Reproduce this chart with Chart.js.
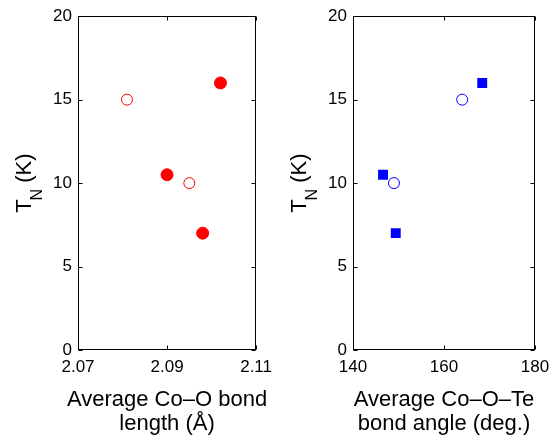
<!DOCTYPE html>
<html><head><meta charset="utf-8">
<script src="https://cdn.jsdelivr.net/npm/chart.js@4.4.0/dist/chart.umd.min.js"></script>
<style>
html,body{margin:0;padding:0;background:#fff}
body{width:557px;height:438px;overflow:hidden;position:relative}
.box{position:absolute;top:0;height:438px}
canvas{display:block}
</style></head><body>
<div class="box" style="left:0;width:279px"><canvas id="c1" width="279" height="438"></canvas></div>
<div class="box" style="left:279px;width:278px"><canvas id="c2" width="278" height="438"></canvas></div>
<script>
// ---- data ----
const lengthTicks = [2.07, 2.09, 2.11];
const angleTicks = [140, 160, 180];
const tnTicks = [0, 5, 10, 15, 20];

const lengthOpen = [2.081, 2.095];
const tnLengthOpen = [15, 10];
const lengthFilled = [2.090, 2.098, 2.102];
const tnLengthFilled = [10.5, 7, 16];

const angleOpen = [149, 164];
const tnAngleOpen = [10, 15];
const angleFilled = [146.6, 149.4, 168.4];
const tnAngleFilled = [10.5, 7, 16];

const xTitleLeft = ['Average Co\u2013O bond', 'length (\u00C5)'];
const xTitleRight = ['Average Co\u2013O\u2013Te', 'bond angle (deg.)'];

const FONT = "'Liberation Sans', Arial, Helvetica, sans-serif";

function pts(xs, ys) { return xs.map((v, i) => ({x: v, y: ys[i]})); }

const frame = {
  id: 'frame',
  afterDraw(chart, args, opts) {
    const {ctx, chartArea: a, scales: {x, y}} = chart;
    ctx.save();
    ctx.strokeStyle = '#000';
    ctx.lineWidth = 1;
    const l = Math.round(a.left) + 0.5, r = Math.round(a.right) - 0.5;
    const t = Math.round(a.top) + 0.5, b = Math.round(a.bottom) - 0.5;
    ctx.strokeRect(l, t, r - l, b - t);
    const L = 4;
    ctx.beginPath();
    x.ticks.forEach(tk => {
      const px = Math.round(x.getPixelForValue(tk.value)) + 0.5;
      ctx.moveTo(px, b); ctx.lineTo(px, b - L);
      ctx.moveTo(px, t); ctx.lineTo(px, t + L);
    });
    y.ticks.forEach(tk => {
      const py = Math.round(y.getPixelForValue(tk.value)) + 0.5;
      ctx.moveTo(l, py); ctx.lineTo(l + L, py);
      ctx.moveTo(r, py); ctx.lineTo(r - L, py);
    });
    ctx.stroke();
    const big = '22px ' + FONT, small = '16px ' + FONT;
    ctx.fillStyle = '#000';
    ctx.textBaseline = 'alphabetic';
    // x title (two lines, no width compression)
    ctx.textAlign = 'center';
    ctx.font = big;
    const mx = (a.left + a.right) / 2;
    ctx.fillText(opts.xTitle[0], mx, 405.5);
    ctx.fillText(opts.xTitle[1], mx, 430);
    // y title: T_N (K)
    ctx.textAlign = 'left';
    ctx.font = big; const wT = ctx.measureText('T').width;
    const wK = ctx.measureText(' (K)').width;
    ctx.font = small; const wN = ctx.measureText('N').width;
    const total = wT + wN + wK - 1;
    const cx = a.left - 47, cy = (a.top + a.bottom) / 2;
    ctx.translate(cx, cy);
    ctx.rotate(-Math.PI / 2);
    let px = -total / 2;
    ctx.font = big; ctx.fillText('T', px, 0); px += wT - 1;
    ctx.font = small; ctx.fillText('N', px, 11); px += wN;
    ctx.font = big; ctx.fillText(' (K)', px, 0);
    ctx.restore();
  }
};

function makeChart(id, xmin, xmax, xt, xfmt, title, datasets, yWidth, rightPad) {
  return new Chart(document.getElementById(id), {
    type: 'scatter',
    data: {datasets},
    options: {
      responsive: false,
      animation: false,
      layout: {padding: {top: 14, right: rightPad, left: 0, bottom: 0}},
      plugins: {legend: {display: false}, tooltip: {enabled: false}, frame: {xTitle: title}},
      scales: {
        x: {
          type: 'linear', min: xmin, max: xmax,
          afterBuildTicks: s => { s.ticks = xt.map(v => ({value: v})); },
          afterFit: s => { s.height = 88; },
          grid: {display: false, drawTicks: false},
          border: {display: false},
          ticks: {autoSkip: false, maxRotation: 0, padding: 7, color: '#000',
                  font: {family: FONT, size: 17}, callback: xfmt},
          title: {display: false}
        },
        y: {
          type: 'linear', min: 0, max: 20,
          afterBuildTicks: s => { s.ticks = tnTicks.map(v => ({value: v})); },
          afterFit: s => { s.width = yWidth; },
          grid: {display: false, drawTicks: false},
          border: {display: false},
          ticks: {padding: 6, color: '#000', font: {family: FONT, size: 17}},
          title: {display: false}
        }
      }
    },
    plugins: [frame]
  });
}

makeChart('c1', 2.07, 2.11, lengthTicks, v => v.toFixed(2), xTitleLeft, [
  {data: pts(lengthOpen, tnLengthOpen), pointStyle: 'circle', pointRadius: 5.5,
   pointBorderWidth: 1, pointBorderColor: '#ff0000', pointBackgroundColor: 'rgba(0,0,0,0)'},
  {data: pts(lengthFilled, tnLengthFilled), pointStyle: 'circle', pointRadius: 6,
   pointBorderWidth: 1, pointBorderColor: '#ff0000', pointBackgroundColor: '#ff0000'}
], 78, 21);

makeChart('c2', 140, 180, angleTicks, v => String(v), xTitleRight, [
  {data: pts(angleOpen, tnAngleOpen), pointStyle: 'circle', pointRadius: 5.5,
   pointBorderWidth: 1, pointBorderColor: '#0000ff', pointBackgroundColor: 'rgba(0,0,0,0)'},
  {data: pts(angleFilled, tnAngleFilled), pointStyle: 'rect', pointRadius: 7,
   pointBorderWidth: 0, pointBorderColor: '#0000ff', pointBackgroundColor: '#0000ff'}
], 74, 22);
</script>
</body></html>
